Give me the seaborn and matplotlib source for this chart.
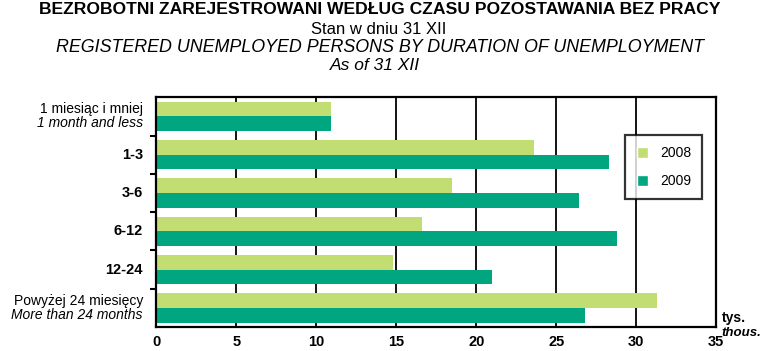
import pandas as pd
import matplotlib
matplotlib.use('Agg')
import matplotlib.pyplot as plt
import matplotlib.transforms as mtransforms
from matplotlib.patches import Patch
import seaborn as sns

# data (thousands of persons)
categories = ['1m', '1-3', '3-6', '6-12', '12-24', '24+']
values_2008 = [10.9, 23.6, 18.5, 16.6, 14.8, 31.3]
values_2009 = [10.9, 28.3, 26.4, 28.8, 21.0, 26.8]
years = ['2008', '2009']
colors = ['#c2dd72', '#00a680']

df = pd.DataFrame({
    'category': categories * 2,
    'value': values_2008 + values_2009,
    'year': [years[0]] * len(categories) + [years[1]] * len(categories),
})

sns.set_theme(style='white')
plt.rcParams['font.family'] = ['Liberation Sans', 'DejaVu Sans']
plt.rcParams['text.color'] = 'black'
plt.rcParams['xtick.color'] = 'black'
plt.rcParams['ytick.color'] = 'black'

fig = plt.figure(figsize=(7.7, 3.51), dpi=100)
ax = fig.add_axes([0.203, 0.068, 0.727, 0.655])

sns.barplot(data=df, x='value', y='category', hue='year', orient='h',
            palette=colors, width=0.76, saturation=1, linewidth=0,
            ax=ax, legend=False)

ax.set_xlim(0, 35)
ax.set_ylim(len(categories) - 0.5, -0.5)
ax.set_xticks(range(0, 36, 5))
ax.set_xticklabels([str(v) for v in range(0, 36, 5)], fontweight='bold', fontsize=10.5)
ax.tick_params(axis='x', length=0, pad=6)
ax.xaxis.grid(True, color='black', linewidth=1.3)
ax.set_axisbelow(True)
for s in ax.spines.values():
    s.set_color('black')
    s.set_linewidth(1.6)
ax.set_xlabel('')
ax.set_ylabel('')

# y ticks between categories, labels drawn by hand (mixed styles)
ax.set_yticks([i + 0.5 for i in range(len(categories) - 1)])
ax.set_yticklabels([])
ax.tick_params(axis='y', length=4, width=1.5, color='black', direction='out', left=True)

trans = mtransforms.blended_transform_factory(ax.transAxes, ax.transData)
xl = -0.024
ax.text(xl, 0, '1 miesiąc i mniej', transform=trans, ha='right', va='bottom', fontsize=10)
ax.text(xl, 0, '1 month and less', transform=trans, ha='right', va='top', fontsize=10, style='italic')
for i in range(1, 5):
    ax.text(xl, i, categories[i], transform=trans, ha='right', va='center',
            fontsize=10.5, fontweight='bold')
ax.text(xl, 5, 'Powyżej 24 miesięcy', transform=trans, ha='right', va='bottom', fontsize=10)
ax.text(xl, 5, 'More than 24 months', transform=trans, ha='right', va='top', fontsize=10, style='italic')

handles = [Patch(facecolor=c, label=y) for c, y in zip(colors, years)]
leg = ax.legend(handles=handles, loc='upper left', bbox_to_anchor=(0.838, 0.835),
                frameon=True, fancybox=False, fontsize=10, handlelength=0.8,
                handleheight=0.8, labelspacing=1.0, borderpad=0.8, handletextpad=0.9,
                borderaxespad=0)
leg.get_frame().set_edgecolor('black')
leg.get_frame().set_linewidth(1.6)

fig.text(0.938, 0.094, 'tys.', fontsize=10, fontweight='bold', ha='left', va='center')
fig.text(0.937, 0.052, 'thous.', fontsize=9.5, fontweight='bold', style='italic',
         ha='left', va='center')

fig.text(0.493, 0.974, 'BEZROBOTNI ZAREJESTROWANI WEDŁUG CZASU POZOSTAWANIA BEZ PRACY',
         ha='center', va='center', fontsize=12.6, fontweight='bold')
fig.text(0.492, 0.916, 'Stan w dniu 31 XII', ha='center', va='center', fontsize=12)
fig.text(0.493, 0.866, 'REGISTERED UNEMPLOYED PERSONS BY DURATION OF UNEMPLOYMENT',
         ha='center', va='center', fontsize=12.9, style='italic')
fig.text(0.487, 0.813, 'As of 31 XII', ha='center', va='center', fontsize=12.5, style='italic')

fig.savefig('out.png', dpi=100)
